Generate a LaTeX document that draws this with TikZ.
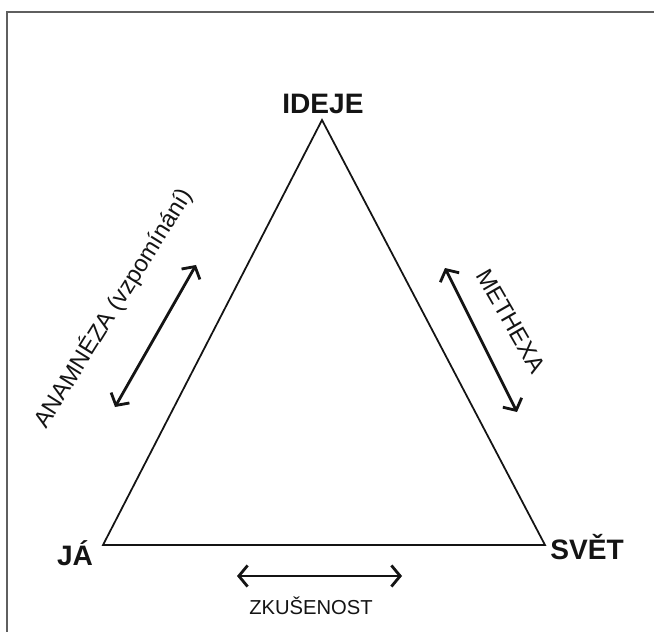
\documentclass[tikz,border=0pt]{standalone}
\usepackage{fontspec}
\setmainfont{Liberation Sans}
\usetikzlibrary{arrows.meta}
\definecolor{framegray}{RGB}{95,95,95}
\definecolor{inkblack}{RGB}{20,20,20}

\begin{document}
\begin{tikzpicture}[
      x=0.02cm, y=-0.02cm,
      corner/.style={font=\fontsize{16}{18}\selectfont\bfseries, text=inkblack, inner sep=1pt},
      rel/.style={font=\fontsize{13.5}{15}\selectfont, text=inkblack, inner sep=0pt},
      twoway/.style={{Straight Barb[length=5pt,width=12pt]}-{Straight Barb[length=5pt,width=12pt]},
                     line width=1.6pt, inkblack},
    ]
    \useasboundingbox (0,0) rectangle (654,632);
    \draw[framegray, line width=1.3pt] (7,632) -- (7,12) -- (654,12);
    % vertices of the triangle
    \coordinate (top)   at (322,120);
    \coordinate (left)  at (103,545);
    \coordinate (right) at (545,545);
    \draw[inkblack, line width=1pt] (top) -- (left) -- (right) -- cycle;
    \node[corner] (ideje) at (323,104) {IDEJE};
    \node[corner] (ja)    at (75,553)  {JÁ};
    \node[corner] (svet)  at (587,547) {SVĚT};
    % relations
    \coordinate (an1) at (196,265);
    \coordinate (an2) at (115,407);
    \coordinate (me1) at (445,268);
    \coordinate (me2) at (517,412);
    \coordinate (zk1) at (237,576);
    \coordinate (zk2) at (402,576);
    \draw[twoway] (an1) -- (an2);
    \draw[twoway] (me1) -- (me2);
    \draw[twoway] (zk1) -- (zk2);
    \node[rel, rotate=58]  (anamneza)  at (113,308) {ANAMNÉZA (vzpomínání)};
    \node[rel, rotate=-60] (methexa)   at (511,321) {METHEXA};
    \node[rel, font=\fontsize{11.5}{13}\selectfont] (zkusenost) at (311,606) {ZKUŠENOST};
  \end{tikzpicture}
\end{document}
